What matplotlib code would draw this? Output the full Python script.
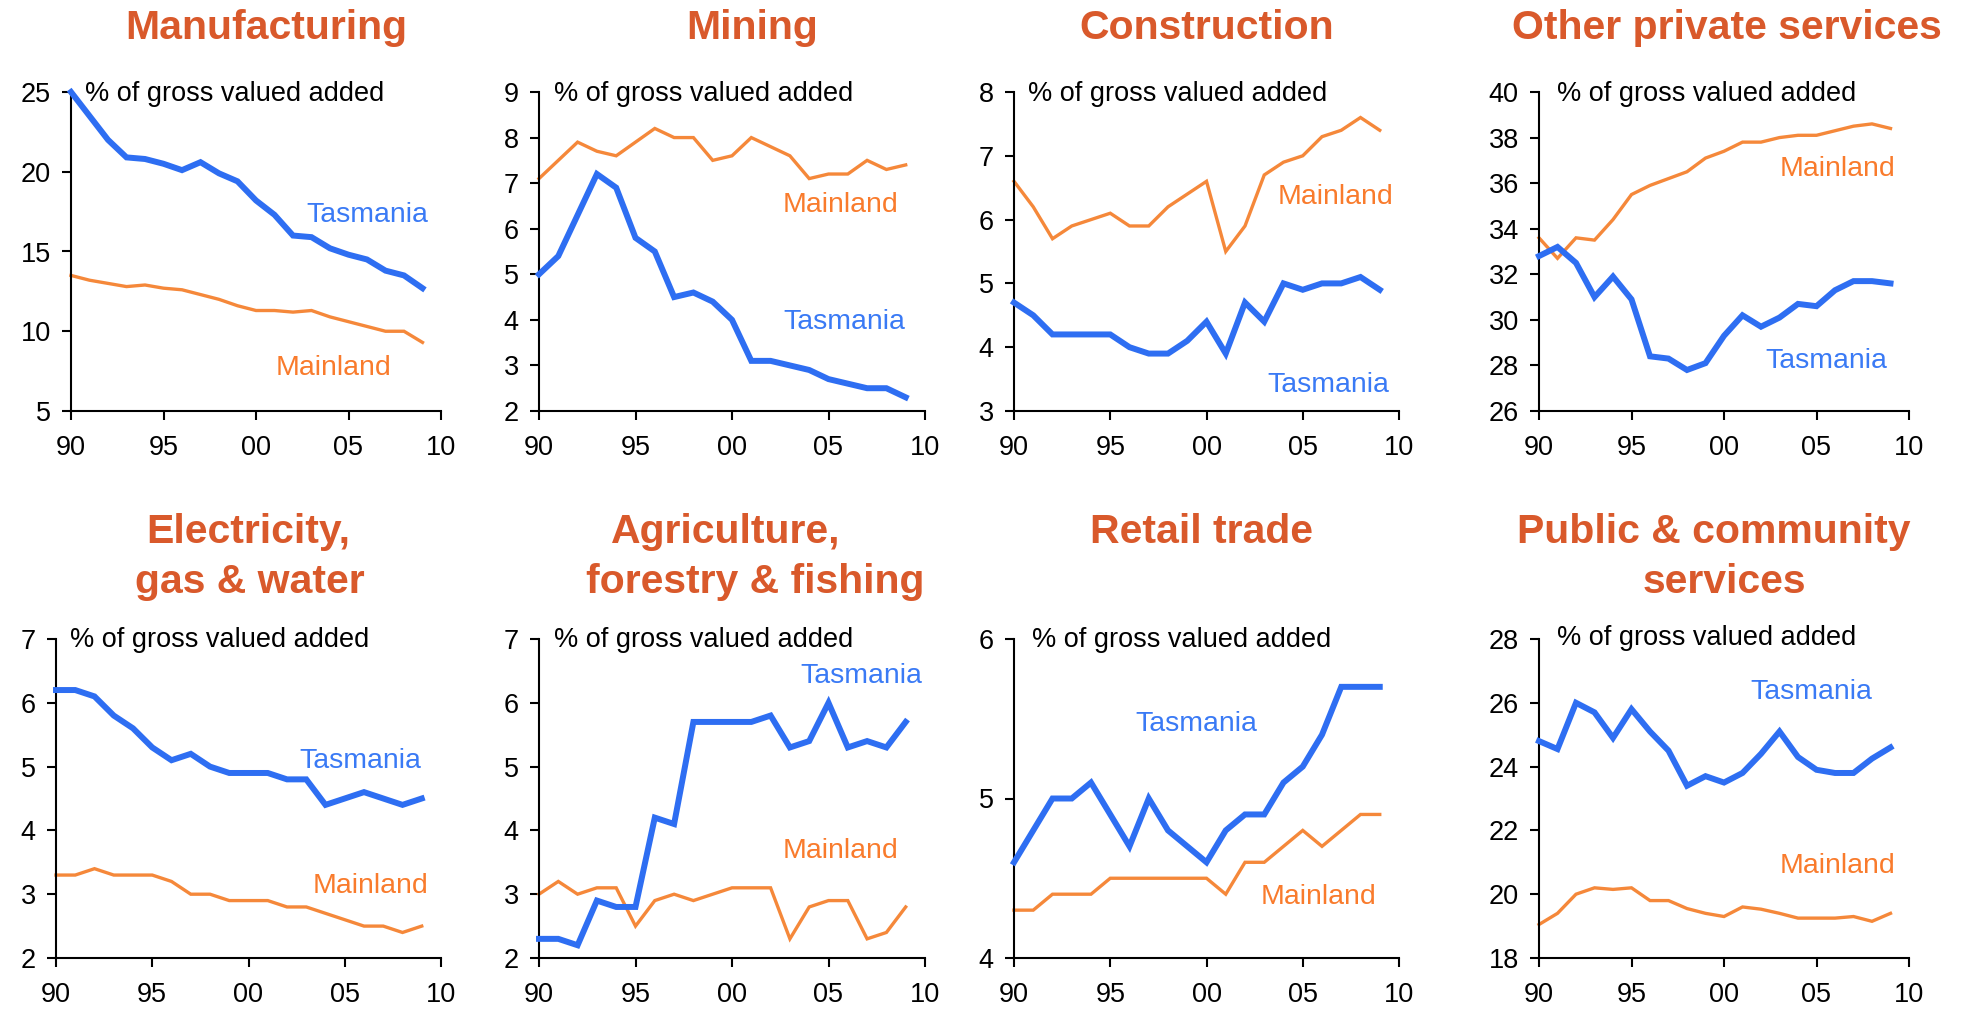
import matplotlib
matplotlib.use("Agg")
import matplotlib.pyplot as plt

plt.rcParams['font.family'] = ['Liberation Sans', 'DejaVu Sans']

years = list(range(1990, 2010))

titles = [
    ["Manufacturing"], ["Mining"], ["Construction"], ["Other private services"],
    ["Electricity,", "gas & water"], ["Agriculture,", "forestry & fishing"],
    ["Retail trade"], ["Public & community", "services"],
]

manufacturing_tas = [25.0, 23.5, 22.0, 20.9, 20.8, 20.5, 20.1, 20.6, 19.9, 19.4,
                     18.2, 17.3, 16.0, 15.9, 15.2, 14.8, 14.5, 13.8, 13.5, 12.7]
manufacturing_main = [13.5, 13.2, 13.0, 12.8, 12.9, 12.7, 12.6, 12.3, 12.0, 11.6,
                      11.3, 11.3, 11.2, 11.3, 10.9, 10.6, 10.3, 10.0, 10.0, 9.3]

mining_tas = [5.0, 5.4, 6.3, 7.2, 6.9, 5.8, 5.5, 4.5, 4.6, 4.4,
              4.0, 3.1, 3.1, 3.0, 2.9, 2.7, 2.6, 2.5, 2.5, 2.3]
mining_main = [7.1, 7.5, 7.9, 7.7, 7.6, 7.9, 8.2, 8.0, 8.0, 7.5,
               7.6, 8.0, 7.8, 7.6, 7.1, 7.2, 7.2, 7.5, 7.3, 7.4]

construction_tas = [4.7, 4.5, 4.2, 4.2, 4.2, 4.2, 4.0, 3.9, 3.9, 4.1,
                    4.4, 3.9, 4.7, 4.4, 5.0, 4.9, 5.0, 5.0, 5.1, 4.9]
construction_main = [6.6, 6.2, 5.7, 5.9, 6.0, 6.1, 5.9, 5.9, 6.2, 6.4,
                     6.6, 5.5, 5.9, 6.7, 6.9, 7.0, 7.3, 7.4, 7.6, 7.4]

other_tas = [32.8, 33.2, 32.5, 31.0, 31.9, 30.9, 28.4, 28.3, 27.8, 28.1,
             29.3, 30.2, 29.7, 30.1, 30.7, 30.6, 31.3, 31.7, 31.7, 31.6]
other_main = [33.6, 32.7, 33.6, 33.5, 34.4, 35.5, 35.9, 36.2, 36.5, 37.1,
              37.4, 37.8, 37.8, 38.0, 38.1, 38.1, 38.3, 38.5, 38.6, 38.4]

electricity_tas = [6.2, 6.2, 6.1, 5.8, 5.6, 5.3, 5.1, 5.2, 5.0, 4.9,
                   4.9, 4.9, 4.8, 4.8, 4.4, 4.5, 4.6, 4.5, 4.4, 4.5]
electricity_main = [3.3, 3.3, 3.4, 3.3, 3.3, 3.3, 3.2, 3.0, 3.0, 2.9,
                    2.9, 2.9, 2.8, 2.8, 2.7, 2.6, 2.5, 2.5, 2.4, 2.5]

agriculture_tas = [2.3, 2.3, 2.2, 2.9, 2.8, 2.8, 4.2, 4.1, 5.7, 5.7,
                   5.7, 5.7, 5.8, 5.3, 5.4, 6.0, 5.3, 5.4, 5.3, 5.7]
agriculture_main = [3.0, 3.2, 3.0, 3.1, 3.1, 2.5, 2.9, 3.0, 2.9, 3.0,
                    3.1, 3.1, 3.1, 2.3, 2.8, 2.9, 2.9, 2.3, 2.4, 2.8]

retail_tas = [4.6, 4.8, 5.0, 5.0, 5.1, 4.9, 4.7, 5.0, 4.8, 4.7,
              4.6, 4.8, 4.9, 4.9, 5.1, 5.2, 5.4, 5.7, 5.7, 5.7]
retail_main = [4.3, 4.3, 4.4, 4.4, 4.4, 4.5, 4.5, 4.5, 4.5, 4.5,
               4.5, 4.4, 4.6, 4.6, 4.7, 4.8, 4.7, 4.8, 4.9, 4.9]

public_tas = [24.8, 24.55, 26.0, 25.7, 24.9, 25.8, 25.1, 24.5, 23.4, 23.7,
              23.5, 23.8, 24.4, 25.1, 24.3, 23.9, 23.8, 23.8, 24.25, 24.6]
public_main = [19.05, 19.4, 20.0, 20.2, 20.15, 20.2, 19.8, 19.8, 19.55, 19.4,
               19.3, 19.6, 19.53, 19.4, 19.25, 19.25, 19.25, 19.3, 19.15, 19.4]

tas_series = [manufacturing_tas, mining_tas, construction_tas, other_tas,
              electricity_tas, agriculture_tas, retail_tas, public_tas]
main_series = [manufacturing_main, mining_main, construction_main, other_main,
               electricity_main, agriculture_main, retail_main, public_main]

y_ranges = [(5, 25, 5), (2, 9, 1), (3, 8, 1), (26, 40, 2),
            (2, 7, 1), (2, 7, 1), (4, 6, 1), (18, 28, 2)]

x_ticks = [1990, 1995, 2000, 2005, 2010]
x_tick_labels = ["90", "95", "00", "05", "10"]
unit_label = "% of gross valued added"
tas_name = "Tasmania"
main_name = "Mainland"

# layout (pixels)
W, H = 1966, 1009
ax_lr = [(71, 441), (539, 925), (1014, 1399), (1539, 1909),
         (56, 441), (539, 925), (1014, 1399), (1539, 1909)]
row_tb = [(92, 411), (639, 958)]
title_pos = [[(266, 39)], [(752, 39)], [(1207, 39)], [(1727, 39)],
             [(248, 543), (250, 593)], [(726, 543), (755, 593)],
             [(1202, 543)], [(1714, 543), (1724, 593)]]
unit_x = [0.038, 0.039, 0.037, 0.049, 0.036, 0.039, 0.047, 0.049]
unit_y = [0.973, 0.973, 0.973, 0.973, 0.976, 0.976, 0.976, 0.981]
tas_lab = [(0.80, 0.592), (0.79, 0.257), (0.816, 0.06), (0.776, 0.135),
           (0.79, 0.596), (0.836, 0.863), (0.474, 0.712), (0.737, 0.812)]
main_lab = [(0.71, 0.113), (0.78, 0.625), (0.834, 0.649), (0.807, 0.737),
            (0.818, 0.204), (0.78, 0.313), (0.792, 0.169), (0.807, 0.266)]

tas_color = '#2E6EF2'
tas_text = '#3A7AF5'
main_color = '#F5883A'
main_text = '#F97B2C'
title_color = '#D9592B'

fig = plt.figure(figsize=(W / 100, H / 100), dpi=100)

for i in range(8):
    l, r = ax_lr[i]
    t, b = row_tb[i // 4]
    ax = fig.add_axes([l / W, 1 - b / H, (r - l) / W, (b - t) / H])
    ax.plot(years, main_series[i], color=main_color, lw=2.4, solid_joinstyle='miter', zorder=2)
    ax.plot(years, tas_series[i], color=tas_color, lw=4.3, solid_joinstyle='miter', zorder=3)
    lo, hi, st = y_ranges[i]
    ax.set_ylim(lo, hi)
    ax.set_yticks(list(range(lo, hi + 1, st)))
    ax.set_xlim(1990, 2010)
    ax.set_xticks(x_ticks)
    ax.set_xticklabels(x_tick_labels)
    for s in ['top', 'right']:
        ax.spines[s].set_visible(False)
    for s in ['left', 'bottom']:
        ax.spines[s].set_linewidth(1.5)
    ax.tick_params(axis='both', direction='out', length=6.5, width=1.5,
                   labelsize=19.5)
    ax.tick_params(axis='y', pad=8)
    ax.tick_params(axis='x', pad=11)
    ax.patch.set_visible(False)
    for ln in ax.lines:
        ln.set_clip_on(False)
    ax.text(unit_x[i], unit_y[i], unit_label, transform=ax.transAxes,
            fontsize=19.5, ha='left', va='baseline', color='black')
    ax.text(tas_lab[i][0], tas_lab[i][1], tas_name, transform=ax.transAxes,
            fontsize=20.5, ha='center', va='baseline', color=tas_text)
    ax.text(main_lab[i][0], main_lab[i][1], main_name, transform=ax.transAxes,
            fontsize=20.5, ha='center', va='baseline', color=main_text)
    for line, (px, py) in zip(titles[i], title_pos[i]):
        fig.text(px / W, 1 - py / H, line, fontsize=29.5, fontweight='bold',
                 color=title_color, ha='center', va='baseline')

fig.savefig('out.png', dpi=100)
